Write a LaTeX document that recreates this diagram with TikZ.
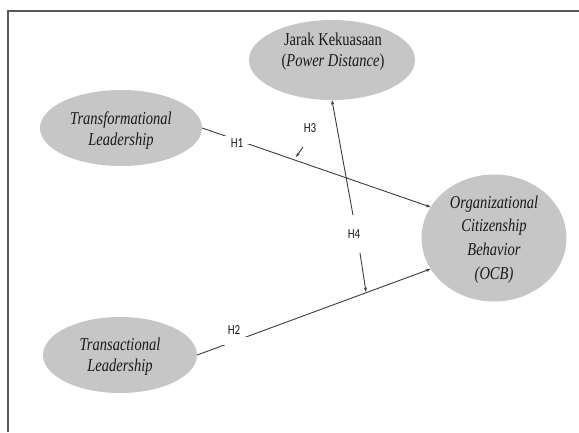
\documentclass[tikz,border=0pt]{standalone}
\usepackage{fontspec}
\setmainfont{Liberation Serif}
\newfontfamily\hfont{Carlito}
\usetikzlibrary{arrows.meta,shapes.geometric}
\definecolor{ellfill}{RGB}{198,198,198}
\definecolor{linec}{RGB}{60,60,60}
\definecolor{txtc}{RGB}{25,25,25}
\newcommand{\vstr}[1]{\scalebox{1}[1.25]{#1}}
\begin{document}
\begin{tikzpicture}[x=1pt,y=-1pt,
  ell/.style={ellipse, fill=ellfill, draw=none, inner sep=0pt},
  etext/.style={text=txtc, font=\fontsize{14.5}{17}\selectfont\itshape, align=center, inner sep=0pt},
  conn/.style={draw=linec, line width=0.9pt},
  arr/.style={conn, -{Stealth[length=4.5pt,width=3.2pt]}},
  hlbl/.style={font=\hfont\fontsize{11}{13}\selectfont, text=txtc, inner sep=0pt},
  gap/.style={fill=white, inner sep=0pt, minimum width=32pt, minimum height=8pt}]
\useasboundingbox (0,0) rectangle (579,432);
\fill[white] (0,0) rectangle (579,432);
% frame
\draw[line width=2.2pt, black!65] (8,432) -- (8,11) -- (579,11);
% ellipses
\node[ell, minimum width=166pt, minimum height=80pt] (J) at (332,60) {};
\node[ell, minimum width=162pt, minimum height=76pt] (TF) at (121,128) {};
\node[ell, minimum width=154pt, minimum height=76pt] (TA) at (120,355) {};
\node[ell, minimum width=145pt, minimum height=127pt] (OCB) at (494,238) {};
% texts
\node[etext, font=\fontsize{14.5}{16.5}\selectfont] (tJ) at (333,52)
  {\vstr{\begin{tabular}{@{}c@{}}Jarak Kekuasaan\\(\textit{Power Distance})\end{tabular}}};
\node[etext] (tTF) at (121,131)
  {\vstr{\begin{tabular}{@{}c@{}}Transformational\\Leadership\end{tabular}}};
\node[etext] (tTA) at (120,357)
  {\vstr{\begin{tabular}{@{}c@{}}Transactional\\Leadership\end{tabular}}};
\node[etext, font=\fontsize{14.5}{19}\selectfont\itshape] (tOCB) at (494,239)
  {\vstr{\begin{tabular}{@{}c@{}}Organizational\\Citizenship\\Behavior\\(OCB)\end{tabular}}};
% main paths
\draw[arr] (TF.east) -- node[gap, pos=0.148] (g1) {} (OCB.154);
\draw[arr] (TA.east) -- node[gap, pos=0.16, minimum width=33pt] (g2) {} (OCB.206);
\node[hlbl] (h1) at (237,143) {\vstr{H1}};
\node[hlbl] (h2) at (234,330) {\vstr{H2}};
\node[hlbl] (h3) at (310,128) {\vstr{H3}};
\node[hlbl] (h4) at (354,234) {\vstr{H4}};
% moderation
\coordinate (c4top) at (353,215);
\draw[arr] (c4top) -- (J.south);
\coordinate (c3a) at (303,147);
\coordinate (c3b) at (296,157);
\draw[arr] (c3a) -- (c3b);
\coordinate (c4a) at (360,253);
\coordinate (c4b) at (366,292);
\draw[arr] (c4a) -- (c4b);
\end{tikzpicture}
\end{document}
